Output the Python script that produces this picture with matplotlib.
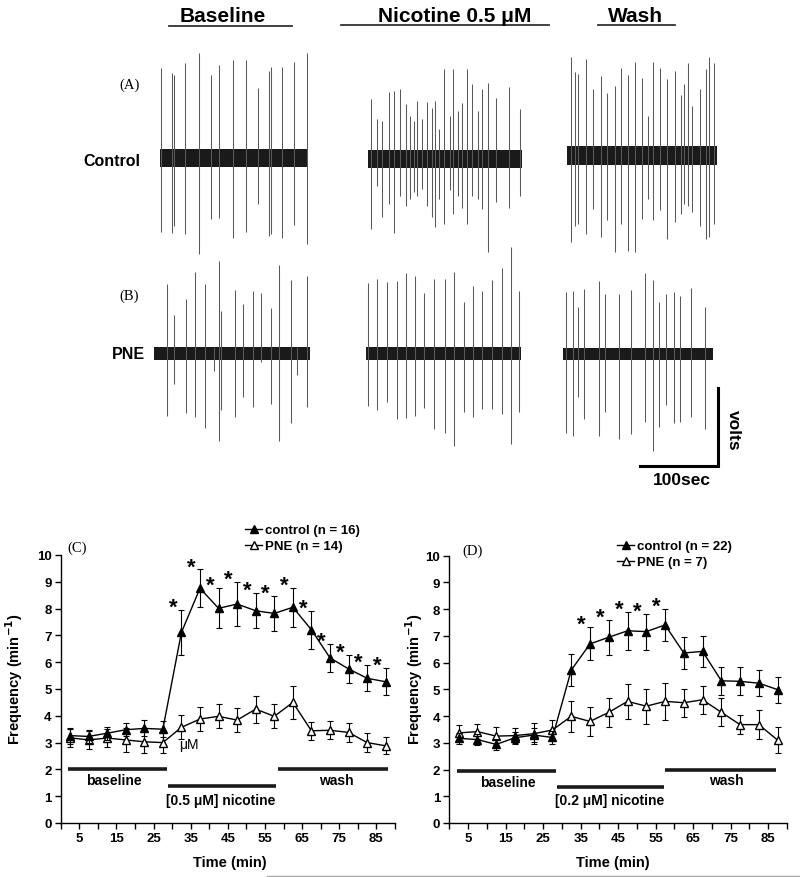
import numpy as np
import matplotlib
matplotlib.use('Agg')
import matplotlib.pyplot as plt
from matplotlib.lines import Line2D

plt.rcParams['font.family'] = ['Liberation Sans', 'DejaVu Sans']
plt.rcParams['font.weight'] = 'bold'
plt.rcParams['axes.labelweight'] = 'bold'

# ---------------- spike traces (seconds, amplitude in scale units; bar = 100) ----------------
ctrl_base_t = [1, 15, 18, 32, 50, 65, 76, 94, 110, 125, 140, 142, 156, 172, 188]
ctrl_base_up = [115, 109, 106, 121, 135, 106, 119, 126, 126, 90, 111, 117, 117, 123, 135]
ctrl_base_dn = [95, 97, 87, 98, 123, 78, 77, 103, 95, 59, 100, 98, 103, 86, 110]

ctrl_nic_t = [3, 11, 18, 26, 33, 41, 48, 54, 59, 63, 69, 75, 82, 85, 90, 97, 105, 109,
              115, 120, 127, 133, 140, 146, 154, 164, 181, 195]
ctrl_nic_up = [77, 51, 49, 86, 88, 90, 71, 56, 49, 75, 51, 73, 66, 75, 39, 116, 55, 116,
               62, 72, 116, 96, 62, 90, 98, 79, 92, 64]
ctrl_nic_dn = [90, 34, 74, 57, 94, 47, 60, 51, 42, 47, 38, 60, 74, 87, 51, 83, 40, 70,
               47, 62, 83, 47, 51, 64, 119, 55, 62, 47]

ctrl_wash_t = [6, 11, 15, 25, 34, 44, 52, 62, 70, 78, 87, 96, 104, 111, 119, 129, 139,
               147, 151, 156, 161, 171, 179, 182, 189]
ctrl_wash_up = [127, 107, 105, 124, 85, 102, 81, 90, 113, 103, 120, 100, 51, 120, 112, 98,
                108, 78, 92, 119, 64, 85, 111, 127, 119]
ctrl_wash_dn = [110, 90, 87, 100, 68, 104, 83, 124, 87, 122, 124, 81, 55, 83, 70, 107, 85,
                75, 62, 64, 72, 90, 107, 104, 87]

pne_base_t = [16, 25, 40, 52, 65, 76, 83, 85, 103, 114, 127, 137, 149, 160, 175, 183, 196]
pne_base_up = [89, 50, 70, 104, 89, 8, 118, 55, 81, 64, 80, 77, 58, 114, 94, 8, 99]
pne_base_dn = [80, 39, 76, 82, 96, 22, 112, 73, 81, 56, 68, 11, 65, 112, 89, 28, 68]

pne_nic_t = [3, 14, 27, 40, 51, 63, 74, 87, 101, 113, 125, 137, 149, 162, 174, 186, 196]
pne_nic_up = [90, 96, 92, 93, 103, 100, 77, 96, 96, 105, 66, 87, 80, 94, 109, 136, 80]
pne_nic_dn = [67, 73, 62, 84, 83, 80, 70, 97, 102, 119, 75, 82, 71, 71, 77, 116, 75]

pne_wash_t = [3, 12, 19, 27, 46, 54, 71, 87, 105, 115, 123, 132, 142, 150, 164, 182]
pne_wash_up = [79, 80, 60, 83, 93, 77, 77, 82, 103, 94, 66, 77, 79, 74, 84, 60]
pne_wash_dn = [102, 105, 56, 83, 105, 75, 109, 103, 88, 124, 94, 66, 89, 88, 81, 96]

# ---------------- frequency data ----------------
time_min = np.arange(2.5, 90, 5)

ctrl_c = [3.26, 3.23, 3.35, 3.48, 3.53, 3.50, 7.11, 8.76, 8.01, 8.17, 7.92, 7.82,
          8.05, 7.21, 6.16, 5.75, 5.40, 5.27]
ctrl_c_err = [0.30, 0.25, 0.25, 0.25, 0.30, 0.30, 0.85, 0.70, 0.75, 0.82, 0.66, 0.65,
              0.73, 0.70, 0.53, 0.52, 0.49, 0.50]
pne_c = [3.18, 3.10, 3.17, 3.10, 3.03, 3.00, 3.57, 3.88, 3.98, 3.84, 4.25, 3.98,
         4.50, 3.44, 3.46, 3.38, 3.00, 2.88]
pne_c_err = [0.33, 0.35, 0.35, 0.45, 0.40, 0.40, 0.45, 0.45, 0.45, 0.45, 0.50, 0.45,
             0.63, 0.33, 0.33, 0.34, 0.34, 0.32]
sig_c = list(range(6, 18))

ctrl_d = [3.17, 3.12, 2.94, 3.19, 3.29, 3.20, 5.72, 6.70, 6.95, 7.19, 7.16, 7.41,
          6.36, 6.42, 5.32, 5.30, 5.23, 4.99]
ctrl_d_err = [0.20, 0.20, 0.20, 0.20, 0.25, 0.25, 0.60, 0.62, 0.66, 0.70, 0.67, 0.60,
              0.58, 0.57, 0.53, 0.52, 0.49, 0.49]
pne_d = [3.37, 3.42, 3.25, 3.27, 3.34, 3.48, 3.99, 3.80, 4.14, 4.55, 4.37, 4.55,
         4.50, 4.61, 4.14, 3.68, 3.68, 3.10]
pne_d_err = [0.30, 0.27, 0.35, 0.30, 0.40, 0.38, 0.57, 0.55, 0.53, 0.65, 0.66, 0.68,
             0.52, 0.52, 0.52, 0.36, 0.54, 0.49]
sig_d = list(range(7, 12))

periods_c = [(2.0, 28.6, 2.0), (28.8, 57.9, 1.37), (58.4, 88.1, 2.0)]
periods_d = [(2.1, 28.4, 1.96), (28.6, 57.2, 1.36), (57.6, 87.1, 2.0)]

W, H = 800, 878
fig = plt.figure(figsize=(W / 100, H / 100), dpi=100)

# ================= top: traces =================
ax_t = fig.add_axes([0, 1 - 480 / H, 1, 480 / H])
ax_t.set_xlim(0, W)
ax_t.set_ylim(480, 0)
ax_t.axis('off')
PX = 0.78  # pixels per second / per amplitude unit

traces = [
    (160.0, 158.8, 189, 11.5, ctrl_base_t, ctrl_base_up, ctrl_base_dn),
    (368.3, 160.2, 197, 11.5, ctrl_nic_t, ctrl_nic_up, ctrl_nic_dn),
    (566.7, 156.7, 193, 12.0, ctrl_wash_t, ctrl_wash_up, ctrl_wash_dn),
    (154.3, 354.5, 199, 8.0, pne_base_t, pne_base_up, pne_base_dn),
    (366.0, 354.5, 199, 8.0, pne_nic_t, pne_nic_up, pne_nic_dn),
    (563.3, 354.8, 192, 8.0, pne_wash_t, pne_wash_up, pne_wash_dn),
]
for x0, yc, dur, half, tt, up, dn in traces:
    xs = x0 + np.array(tt) * PX
    ax_t.vlines(xs, yc - np.array(up) * PX, yc + np.array(dn) * PX,
                color='0.35', lw=0.75)
    ax_t.fill_between([x0, x0 + dur * PX], yc - half * PX, yc + half * PX,
                      color='#1a1a1a', lw=0)

hdr = dict(fontsize=15, ha='center', va='center')
ax_t.text(223, 16, 'Baseline', **hdr)
ax_t.plot([169, 292], [26.7, 26.7], color='#333333', lw=1.3)
ax_t.text(454.7, 16, 'Nicotine 0.5 \u03bcM', **hdr)
ax_t.plot([341, 549], [26.3, 26.3], color='#333333', lw=1.3)
ax_t.text(635, 16, 'Wash', **hdr)
ax_t.plot([598, 675], [26.3, 26.3], color='#333333', lw=1.3)

ax_t.text(140, 161, 'Control', fontsize=11.5, ha='right', va='center')
ax_t.text(145, 355, 'PNE', fontsize=11.5, ha='right', va='center')
ax_t.text(130, 85, '(A)', fontsize=10.5, ha='center', va='center',
          family='Liberation Serif', weight='normal')
ax_t.text(129, 296, '(B)', fontsize=10.5, ha='center', va='center',
          family='Liberation Serif', weight='normal')

# scale bar
ax_t.plot([717.7, 717.7, 640], [389, 467.3, 467.3], color='black', lw=2.2,
          solid_joinstyle='miter')
ax_t.text(733, 430, 'volts', fontsize=12.5, rotation=270, ha='center', va='center')
ax_t.text(681.7, 481, '100sec', fontsize=12.5, ha='center', va='center', clip_on=False)


# ================= bottom: frequency plots =================
def freq_panel(rect, ctrl, ctrl_err, pne, pne_err, sig, periods, conc, tag,
               tag_xy, leg_xy, n_ctrl, n_pne, base_xy, nic_xy, wash_xy, ylab_x, xlab_x):
    ax = fig.add_axes(rect)
    ax.errorbar(time_min, pne, yerr=pne_err, fmt='-^', color='black', mfc='white',
                mec='black', ms=5.5, lw=1, elinewidth=0.8, capsize=2.5, capthick=0.8,
                zorder=3)
    ax.errorbar(time_min, ctrl, yerr=ctrl_err, fmt='-^', color='black', mfc='black',
                ms=5.5, lw=1, elinewidth=0.8, capsize=2.5, capthick=0.8, zorder=4)
    for i in sig:
        ax.text(time_min[i] - 2.3, ctrl[i] + ctrl_err[i] + 0.1, '*', fontsize=16,
                ha='center', va='center')
    for x1, x2, y in periods:
        ax.plot([x1, x2], [y, y], color='#1a1a1a', lw=2.6, solid_capstyle='butt')
    ax.text(*base_xy, 'baseline', fontsize=10, ha='center', va='center')
    ax.text(*nic_xy, '[%s \u03bcM] nicotine' % conc, fontsize=10, ha='center', va='center')
    ax.text(*wash_xy, 'wash', fontsize=10, ha='center', va='center')
    ax.text(*tag_xy, tag, fontsize=10.5, family='Liberation Serif', weight='normal',
            ha='center', va='center', clip_on=False)

    ax.set_xlim(0, 90)
    ax.set_ylim(0, 10)
    ax.set_xticks(np.arange(5, 90, 10))
    ax.set_xticks(np.arange(0, 91, 5), minor=True)
    ax.set_yticks(range(0, 11))
    ax.tick_params(axis='both', which='both', direction='out', length=4, width=1,
                   labelsize=9.5, pad=2.5)
    for s in ['top', 'right']:
        ax.spines[s].set_visible(False)
    for s in ['left', 'bottom']:
        ax.spines[s].set_linewidth(1)
    ax.set_ylabel('Frequency (min$^{\\mathbf{-1}}$)', fontsize=10.5)
    ax.set_xlabel('Time (min)', fontsize=10.5)
    ax.yaxis.set_label_coords(ylab_x, 0.54)
    ax.xaxis.set_label_coords(xlab_x, -0.12)

    handles = [Line2D([], [], color='black', marker='^', mfc='black', ms=5.5, lw=1),
               Line2D([], [], color='black', marker='^', mfc='white', ms=5.5, lw=1)]
    ax.legend(handles, ['control (n = %d)' % n_ctrl, 'PNE (n = %d)' % n_pne],
              loc='upper left', bbox_to_anchor=leg_xy, bbox_transform=fig.transFigure,
              frameon=False, fontsize=9.5, handlelength=1.3, handletextpad=0.25,
              borderpad=0, borderaxespad=0, labelspacing=0.3)
    return ax


ax_c = freq_panel([60.7 / W, 54 / H, 334.3 / W, 268 / H], ctrl_c, ctrl_c_err, pne_c,
                  pne_c_err, sig_c, periods_c, '0.5', '(C)', (4.4, 10.3),
                  (245 / W, 1 - 525 / H), 16, 14, (14.4, 1.62), (43.2, 0.87),
                  (74.1, 1.62), -0.107, 0.506)
ax_c.text(34.4, 2.95, '\u03bcM', fontsize=10, weight='normal', ha='center', va='center')

ax_d = freq_panel([449.3 / W, 54 / H, 337.7 / W, 267.3 / H], ctrl_d, ctrl_d_err, pne_d,
                  pne_d_err, sig_d, periods_d, '0.2', '(D)', (6.3, 10.19),
                  (617 / W, 1 - 541 / H), 22, 7, (15.7, 1.55), (42.7, 0.87),
                  (73.8, 1.62), -0.072, 0.483)

fig.add_artist(Line2D([267 / W, 1], [1.2 / H, 1.2 / H], color='0.65', lw=1))

fig.savefig('out.png', dpi=100)
